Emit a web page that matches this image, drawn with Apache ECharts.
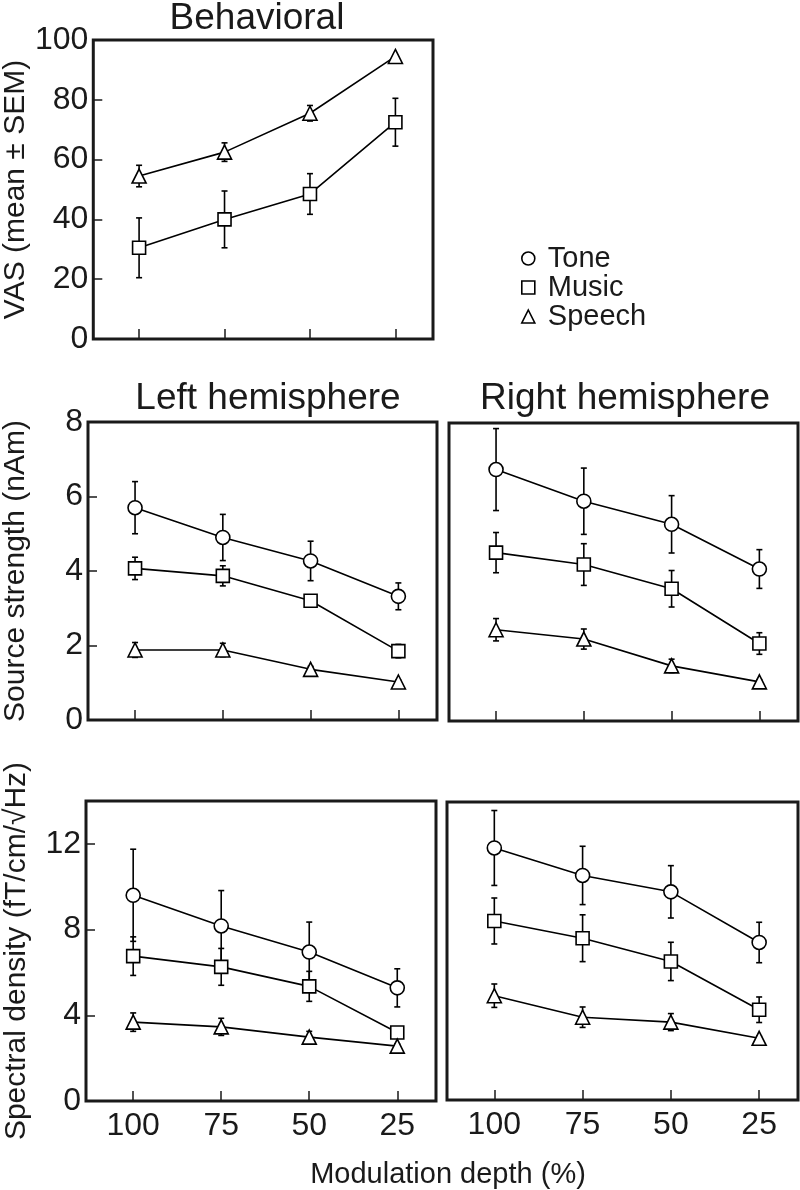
<!DOCTYPE html>
<html>
<head>
<meta charset="utf-8">
<script src="https://cdn.jsdelivr.net/npm/echarts@6/dist/echarts.min.js"></script>
<style>
html,body{margin:0;padding:0;background:#fff;}
#chart{width:800px;height:1190px;}
</style>
</head>
<body>
<div id="chart"></div>
<script>
// ---------- data ----------
const depths = [100, 75, 50, 25];
const seriesNames = ['Tone', 'Music', 'Speech'];

// Behavioral VAS (mean, SEM)
const behMusic = [30.5, 40, 48.5, 72.5];
const behMusicSem = [10, 9.5, 6.8, 8];
const behSpeech = [54.5, 62.5, 75.5, 94.5];
const behSpeechSem = [3.6, 3.1, 2.6, 0];

// Source strength, left hemisphere (nAm)
const ssLeftTone = [5.7, 4.9, 4.27, 3.32];
const ssLeftToneSem = [0.7, 0.62, 0.53, 0.36];
const ssLeftMusic = [4.07, 3.87, 3.2, 1.85];
const ssLeftMusicSem = [0.3, 0.27, 0.15, 0.18];
const ssLeftSpeech = [1.88, 1.88, 1.36, 1.02];
const ssLeftSpeechSem = [0.2, 0.18, 0.08, 0.05];

// Source strength, right hemisphere (nAm)
const ssRightTone = [6.75, 5.9, 5.28, 4.08];
const ssRightToneSem = [1.1, 0.89, 0.77, 0.52];
const ssRightMusic = [4.52, 4.2, 3.55, 2.08];
const ssRightMusicSem = [0.54, 0.56, 0.49, 0.29];
const ssRightSpeech = [2.45, 2.2, 1.48, 1.05];
const ssRightSpeechSem = [0.3, 0.27, 0.18, 0.06];

// Spectral density, left hemisphere
const sdLeftTone = [9.6, 8.17, 6.95, 5.28];
const sdLeftToneSem = [2.15, 1.65, 1.4, 0.89];
const sdLeftMusic = [6.76, 6.26, 5.35, 3.2];
const sdLeftMusicSem = [0.9, 0.86, 0.7, 0.2];
const sdLeftSpeech = [3.68, 3.46, 2.98, 2.56];
const sdLeftSpeechSem = [0.43, 0.4, 0.27, 0.1];

// Spectral density, right hemisphere
const sdRightTone = [11.84, 10.55, 9.78, 7.4];
const sdRightToneSem = [1.76, 1.37, 1.23, 0.95];
const sdRightMusic = [8.41, 7.6, 6.51, 4.24];
const sdRightMusicSem = [1.08, 1.1, 0.9, 0.6];
const sdRightSpeech = [4.9, 3.89, 3.66, 2.9];
const sdRightSpeechSem = [0.55, 0.48, 0.4, 0.1];

// tick labels
const xTickValues = [100, 75, 50, 25];
const yTicksBeh = [0, 20, 40, 60, 80, 100];
const yTicksSS = [0, 2, 4, 6, 8];
const yTicksSD = [0, 4, 8, 12];

// ---------- styling / layout ----------
const FONT = '"Liberation Sans", Arial, Helvetica, sans-serif';
const INK = '#1a1a1a';
const symbolFor = {Tone: 'circle', Music: 'rect', Speech: 'triangle'};
const symbolSizeFor = {Tone: 14, Music: 13, Speech: 14};

const grids = [
  {left: 86, top: 40, width: 347, height: 299},   // behavioral
  {left: 87, top: 422, width: 350, height: 298},  // SS left
  {left: 449, top: 423, width: 349, height: 298}, // SS right
  {left: 86, top: 801, width: 350, height: 300},  // SD left
  {left: 447, top: 802, width: 351, height: 298}  // SD right
].map(g => Object.assign({show: true, borderColor: INK, borderWidth: 3, backgroundColor: 'transparent'}, g));

function xAxis(gi, showLabels) {
  return {
    type: 'value', gridIndex: gi, inverse: true, min: 14, max: 113.4,
    axisLine: {show: false},
    splitLine: {show: false},
    axisTick: {show: true, inside: true, length: 10, lineStyle: {color: INK, width: 1.5}, customValues: xTickValues},
    axisLabel: {show: showLabels, customValues: xTickValues, fontSize: 32, color: INK, fontFamily: FONT, margin: 9}
  };
}
function yAxis(gi, min, max, ticks, showLabels, name, nameGap) {
  return {
    type: 'value', gridIndex: gi, min: min, max: max,
    axisLine: {show: false},
    splitLine: {show: false},
    axisTick: {show: showLabels, inside: true, length: 9, lineStyle: {color: INK, width: 1.5}, customValues: ticks},
    axisLabel: {show: showLabels, customValues: ticks, fontSize: 32, color: INK, fontFamily: FONT, margin: 5},
    name: name || '', nameLocation: 'middle', nameGap: nameGap || 0,
    nameTextStyle: {fontSize: 30, color: INK, fontFamily: FONT}
  };
}

const series = [];
function addGroup(gi, name, means, sems) {
  const pts = depths.map((d, i) => [d, means[i]]);
  const bars = depths.map((d, i) => [d, means[i] - sems[i], means[i] + sems[i]]).filter((b, i) => sems[i] > 0);
  series.push({
    type: 'custom', name: name, xAxisIndex: gi, yAxisIndex: gi, z: 1, silent: true,
    data: bars,
    renderItem: function (params, api) {
      const x = api.value(0);
      const top = api.coord([x, api.value(2)]);
      const bot = api.coord([x, api.value(1)]);
      const cw = 3;
      const st = {stroke: '#000', lineWidth: 1.6};
      return {type: 'group', children: [
        {type: 'line', shape: {x1: top[0], y1: top[1], x2: bot[0], y2: bot[1]}, style: st},
        {type: 'line', shape: {x1: top[0] - cw, y1: top[1], x2: top[0] + cw, y2: top[1]}, style: st},
        {type: 'line', shape: {x1: bot[0] - cw, y1: bot[1], x2: bot[0] + cw, y2: bot[1]}, style: st}
      ]};
    }
  });
  series.push({
    type: 'line', name: name, xAxisIndex: gi, yAxisIndex: gi, z: 3,
    data: pts,
    symbol: symbolFor[name], symbolSize: symbolSizeFor[name],
    showAllSymbol: true,
    lineStyle: {color: '#000', width: 1.6},
    itemStyle: {color: '#fff', borderColor: '#000', borderWidth: 1.6},
    emphasis: {disabled: true},
    animation: false
  });
}

addGroup(0, 'Speech', behSpeech, behSpeechSem);
addGroup(0, 'Music', behMusic, behMusicSem);

addGroup(1, 'Tone', ssLeftTone, ssLeftToneSem);
addGroup(1, 'Music', ssLeftMusic, ssLeftMusicSem);
addGroup(1, 'Speech', ssLeftSpeech, ssLeftSpeechSem);

addGroup(2, 'Tone', ssRightTone, ssRightToneSem);
addGroup(2, 'Music', ssRightMusic, ssRightMusicSem);
addGroup(2, 'Speech', ssRightSpeech, ssRightSpeechSem);

addGroup(3, 'Tone', sdLeftTone, sdLeftToneSem);
addGroup(3, 'Music', sdLeftMusic, sdLeftMusicSem);
addGroup(3, 'Speech', sdLeftSpeech, sdLeftSpeechSem);

addGroup(4, 'Tone', sdRightTone, sdRightToneSem);
addGroup(4, 'Music', sdRightMusic, sdRightMusicSem);
addGroup(4, 'Speech', sdRightSpeech, sdRightSpeechSem);

const chart = echarts.init(document.getElementById('chart'), null, {renderer: 'canvas'});
chart.setOption({
  animation: false,
  backgroundColor: '#fff',
  textStyle: {fontFamily: FONT},
  title: [
    {text: 'Behavioral', left: 252, top: -5, textAlign: 'center', textStyle: {fontSize: 37, fontWeight: 'normal', color: INK, fontFamily: FONT}},
    {text: 'Left hemisphere', left: 263, top: 375, textAlign: 'center', textStyle: {fontSize: 37, fontWeight: 'normal', color: INK, fontFamily: FONT}},
    {text: 'Right hemisphere', left: 620, top: 375, textAlign: 'center', textStyle: {fontSize: 37, fontWeight: 'normal', color: INK, fontFamily: FONT}},
    {text: 'Modulation depth (%)', left: 443, top: 1155, textAlign: 'center', textStyle: {fontSize: 29, fontWeight: 'normal', color: INK, fontFamily: FONT}}
  ],
  legend: {
    orient: 'vertical', left: 516, top: 239, itemGap: 0,
    itemWidth: 13, itemHeight: 13,
    data: seriesNames.map(n => ({name: n, icon: symbolFor[n], itemStyle: {color: '#fff', borderColor: '#000', borderWidth: 1.6}})),
    textStyle: {fontSize: 29, color: INK, fontFamily: FONT, padding: [0, 0, 0, 8], lineHeight: 28},
    selectedMode: false
  },
  grid: grids,
  xAxis: [xAxis(0, false), xAxis(1, false), xAxis(2, false), xAxis(3, true), xAxis(4, true)],
  yAxis: [
    yAxis(0, 0, 100, yTicksBeh, true, 'VAS (mean \u00b1 SEM)', 56),
    yAxis(1, 0, 8, yTicksSS, true, 'Source strength (nAm)', 57),
    yAxis(2, 0, 8, yTicksSS, false),
    yAxis(3, 0, 14, yTicksSD, true, 'Spectral density (fT/cm/\u221aHz)', 54),
    yAxis(4, 0, 14, yTicksSD, false)
  ],
  series: series
});
</script>
</body>
</html>
